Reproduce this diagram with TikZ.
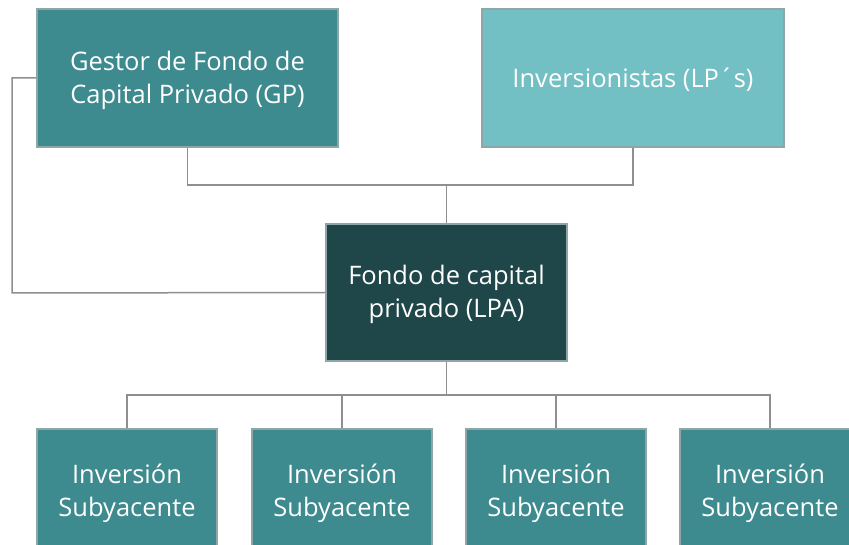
\documentclass[tikz,border=0pt]{standalone}
\usepackage{fontspec}
\setmainfont{Open Sans}
\definecolor{gpcol}{HTML}{3D8A8F}
\definecolor{lpcol}{HTML}{72BFC4}
\definecolor{fundcol}{HTML}{1F4749}
\definecolor{edgecol}{HTML}{8FA6A8}
\definecolor{linecol}{HTML}{8F8F8F}
\tikzset{
  box/.style={rectangle, draw=edgecol, line width=2pt, text=white, align=center,
    font=\fontsize{25.5}{33}\selectfont, inner sep=0pt},
  conn/.style={draw=linecol, line width=1.5pt}
}
\begin{document}
\begin{tikzpicture}[x=1pt,y=-1pt]
\useasboundingbox (0,0) rectangle (849,545);
\clip (0,0) rectangle (849,545);
\node[box, fill=gpcol, minimum width=301pt, minimum height=138pt] (gp) at (187.5,78) {\rule{0pt}{24pt}Gestor de Fondo de\\Capital Privado (GP)};
\node[box, fill=lpcol, minimum width=302pt, minimum height=138pt] (lp) at (633,78) {\rule{0pt}{24pt}Inversionistas (LP´s)};
\node[box, fill=fundcol, minimum width=241pt, minimum height=137pt] (fund) at (446.5,292.5) {\rule{0pt}{24pt}Fondo de capital\\privado (LPA)};
\foreach \n/\x in {i1/127,i2/342,i3/556,i4/770}{
  \node[box, fill=gpcol, minimum width=180pt, minimum height=128pt] (\n) at (\x,493) {Inversión\\Subyacente};
}
\coordinate (top) at (446.5,185);
\coordinate (lft) at (12,293);
\coordinate (bot) at (446.5,395);
\draw[conn] (gp.south) |- (top) -| (lp.south);
\draw[conn] (top) -- (fund.north);
\draw[conn] (gp.west) -| (lft) -- (fund.west);
\draw[conn] (fund.south) -- (bot);
\draw[conn] (i1.north) |- (bot) -| (i4.north);
\draw[conn] (i2.north) -- (i2.north |- bot);
\draw[conn] (i3.north) -- (i3.north |- bot);
\end{tikzpicture}
\end{document}
